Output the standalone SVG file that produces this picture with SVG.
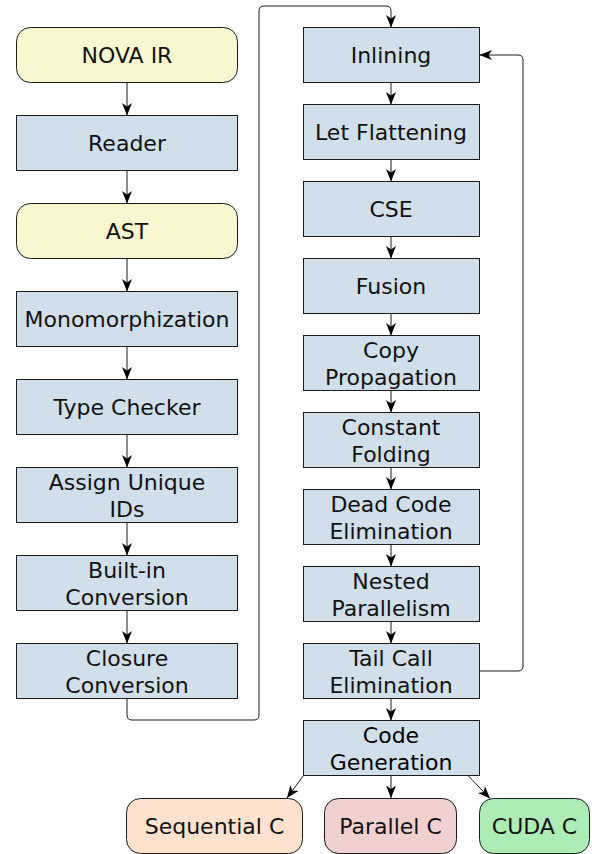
<svg xmlns="http://www.w3.org/2000/svg" width="592" height="854" viewBox="0 0 592 854">
<style>
.n{stroke:#1a1a1a;stroke-width:1}
.y{fill:#f9f7d0}
.b{fill:#d1dfeb}
.s{fill:#ffe2cd}
.p{fill:#f1d1d0}
.g{fill:#aeecb5}
text{font-family:"DejaVu Sans",sans-serif;font-size:22px;fill:#111;text-anchor:middle}
.c{fill:none;stroke:#1a1a1a;stroke-width:1;marker-end:url(#a)}
</style>
<defs>
<marker id="a" markerUnits="userSpaceOnUse" markerWidth="13" markerHeight="10" refX="12.5" refY="5" orient="auto" viewBox="0 0 13 10">
<path d="M0,0 L12.5,5 L0,10 L3.5,5 Z" fill="#000"/>
</marker>
</defs>
<g id="connectors">
<path class="c" d="M127,82.5 V115.5"/>
<path class="c" d="M127,170.5 V203.5"/>
<path class="c" d="M127,258.5 V291.5"/>
<path class="c" d="M127,346.5 V379.5"/>
<path class="c" d="M127,434.5 V467.5"/>
<path class="c" d="M127,522.5 V555.5"/>
<path class="c" d="M127,610.5 V643.5"/>
<path class="c" d="M127,698.5 V715 Q127,720 132,720 H254 Q259,720 259,715 V11 Q259,6 264,6 H386 Q391,6 391,11 V27.5"/>
<path class="c" d="M391,82.5 V104.5"/>
<path class="c" d="M391,159.5 V181.5"/>
<path class="c" d="M391,236.5 V258.5"/>
<path class="c" d="M391,313.5 V335.5"/>
<path class="c" d="M391,390.5 V412.5"/>
<path class="c" d="M391,467.5 V489.5"/>
<path class="c" d="M391,544.5 V566.5"/>
<path class="c" d="M391,621.5 V643.5"/>
<path class="c" d="M391,698.5 V720.5"/>
<path class="c" d="M479.5,671 H518 Q523,671 523,666 V60 Q523,55 518,55 H479.5"/>
<path class="c" d="M303.5,775.5 L287,798"/>
<path class="c" d="M391,775.5 V798"/>
<path class="c" d="M468,775.5 L490,798.5"/>
</g>
<g id="nova-ir"><rect class="n y" x="16.5" y="27.5" width="221" height="55" rx="14"/><text x="127" y="63">NOVA IR</text></g>
<g id="reader"><rect class="n b" x="16.5" y="115.5" width="221" height="55"/><text x="127" y="151">Reader</text></g>
<g id="ast"><rect class="n y" x="16.5" y="203.5" width="221" height="55" rx="14"/><text x="127" y="239">AST</text></g>
<g id="monomorphization"><rect class="n b" x="16.5" y="291.5" width="221" height="55"/><text x="127" y="327">Monomorphization</text></g>
<g id="type-checker"><rect class="n b" x="16.5" y="379.5" width="221" height="55"/><text x="127" y="415">Type Checker</text></g>
<g id="assign-ids"><rect class="n b" x="16.5" y="467.5" width="221" height="55"/><text x="127" y="490">Assign Unique</text><text x="127" y="517">IDs</text></g>
<g id="builtin"><rect class="n b" x="16.5" y="555.5" width="221" height="55"/><text x="127" y="578">Built-in</text><text x="127" y="605">Conversion</text></g>
<g id="closure"><rect class="n b" x="16.5" y="643.5" width="221" height="55"/><text x="127" y="666">Closure</text><text x="127" y="693">Conversion</text></g>
<g id="inlining"><rect class="n b" x="303.5" y="27.5" width="176" height="55"/><text x="391" y="63">Inlining</text></g>
<g id="let-flattening"><rect class="n b" x="303.5" y="104.5" width="176" height="55"/><text x="391" y="140">Let Flattening</text></g>
<g id="cse"><rect class="n b" x="303.5" y="181.5" width="176" height="55"/><text x="391" y="217">CSE</text></g>
<g id="fusion"><rect class="n b" x="303.5" y="258.5" width="176" height="55"/><text x="391" y="294">Fusion</text></g>
<g id="copy-prop"><rect class="n b" x="303.5" y="335.5" width="176" height="55"/><text x="391" y="358">Copy</text><text x="391" y="385">Propagation</text></g>
<g id="const-fold"><rect class="n b" x="303.5" y="412.5" width="176" height="55"/><text x="391" y="435">Constant</text><text x="391" y="462">Folding</text></g>
<g id="dce"><rect class="n b" x="303.5" y="489.5" width="176" height="55"/><text x="391" y="512">Dead Code</text><text x="391" y="539">Elimination</text></g>
<g id="nested"><rect class="n b" x="303.5" y="566.5" width="176" height="55"/><text x="391" y="589">Nested</text><text x="391" y="616">Parallelism</text></g>
<g id="tail-call"><rect class="n b" x="303.5" y="643.5" width="176" height="55"/><text x="391" y="666">Tail Call</text><text x="391" y="693">Elimination</text></g>
<g id="codegen"><rect class="n b" x="303.5" y="720.5" width="176" height="55"/><text x="391" y="743" style="fill:#000">Code</text><text x="391" y="770" style="fill:#000">Generation</text></g>
<g id="sequential-c"><rect class="n s" x="126.5" y="798.5" width="176" height="55" rx="14"/><text x="214.5" y="834">Sequential C</text></g>
<g id="parallel-c"><rect class="n p" x="324.5" y="798.5" width="132" height="55" rx="14"/><text x="390.5" y="834">Parallel C</text></g>
<g id="cuda-c"><rect class="n g" x="479.5" y="798.5" width="110" height="55" rx="14"/><text x="534.5" y="834">CUDA C</text></g>
</svg>
